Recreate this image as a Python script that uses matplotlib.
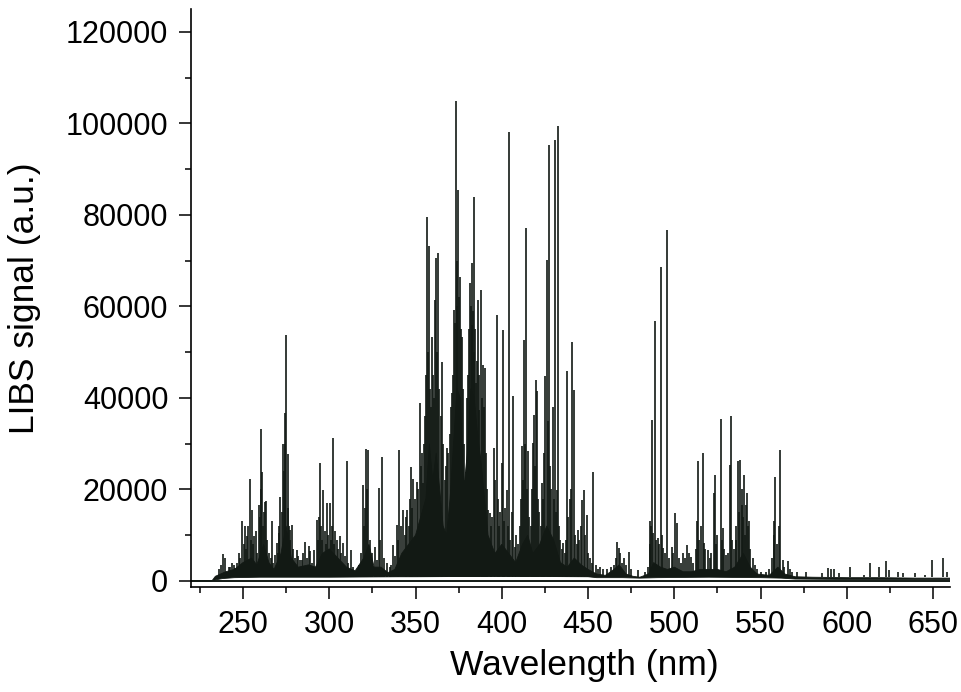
import numpy as np
import matplotlib.pyplot as plt
from matplotlib.ticker import MultipleLocator

plt.rcParams['font.family'] = ['Liberation Sans', 'DejaVu Sans']

# strong emission lines: wavelength (nm) and peak signal (a.u.)
peak_nm = [
	238.4, 239.8, 241.7, 243.6, 245.5, 247.5, 249.4, 251.3, 252.3, 253.8,
	255.2, 256.5, 259.0, 260.2, 261.0, 262.5, 263.3, 266.8, 268.7, 269.7,
	270.6, 271.6, 273.1, 274.1, 275.1, 275.8, 277.0, 277.4, 278.5, 281.2,
	283.2, 286.0, 288.0, 291.4, 292.8, 294.7, 296.6, 298.6, 300.5, 302.4,
	303.4, 306.3, 308.2, 310.2, 312.5, 319.4, 321.4, 322.7, 326.6, 328.9,
	330.4, 333.3, 337.2, 339.1, 340.6, 342.9, 345.3, 347.4, 348.7, 350.7,
	352.4, 354.3, 356.8, 358.0, 359.4, 361.3, 361.9, 363.2, 365.2, 368.4,
	371.0, 372.1, 372.9, 373.4, 374.8, 375.8, 376.7, 379.2, 381.5, 382.5,
	383.4, 384.0, 385.0, 386.2, 387.0, 387.7, 388.9, 390.2, 392.1, 393.1,
	395.4, 397.0, 399.9, 400.5, 402.8, 404.3, 406.6, 407.6, 411.8, 413.0,
	414.3, 415.3, 418.2, 418.8, 419.9, 420.5, 423.0, 424.9, 425.9, 427.3,
	429.4, 430.7, 431.7, 432.6, 435.5, 438.0, 440.7, 441.7, 444.2, 446.5,
	447.5, 449.1, 452.9, 454.8, 457.0, 461.0, 466.9, 467.8, 470.8, 473.7,
	478.9, 486.1, 487.0, 487.8, 488.8, 490.5, 492.1, 493.4, 495.9, 498.6,
	500.3, 501.3, 505.0, 507.5, 509.8, 513.3, 513.9, 516.6, 517.1, 519.4,
	522.7, 523.3, 526.8, 528.3, 530.0, 532.0, 532.6, 533.6, 536.8, 538.2,
	539.4, 540.3, 541.5, 542.3, 543.0, 545.5, 557.5, 558.5, 561.5, 562.8,
	565.7, 568.2, 570.9, 576.3, 581.1, 585.6, 588.8, 590.8, 592.8, 595.7,
	601.8, 606.3, 610.1, 613.4, 618.8, 622.7, 624.6, 629.8, 632.3, 639.6,
	645.4, 649.3, 653.5, 655.8, 658.3,
]
peak_counts = [
	5800, 5000, 3100, 3900, 2800, 6100, 13100, 11900, 9700, 22300,
	15500, 9700, 16600, 33300, 23900, 17300, 17500, 13000, 5700, 8300,
	10500, 18400, 30000, 36800, 53800, 27700, 9000, 11100, 12200, 6800,
	4600, 8400, 7600, 6800, 13300, 25700, 19900, 17100, 17000, 31200,
	10800, 9700, 8200, 26200, 6800, 21000, 28900, 28500, 7500, 20300,
	27000, 3900, 7900, 12200, 28500, 15500, 15400, 24900, 22200, 21700,
	38800, 21400, 79600, 73100, 53400, 61400, 70500, 71600, 47900, 29000,
	41000, 59200, 56300, 104800, 85500, 66500, 53400, 23900, 65100, 69400,
	58900, 84000, 43200, 61400, 37400, 63600, 47200, 46500, 15500, 14800,
	29000, 58100, 25700, 54900, 19900, 98200, 40300, 7500, 29400, 52700,
	77100, 28300, 30100, 36300, 43800, 41400, 21400, 44700, 70200, 95300,
	38100, 96400, 19900, 99500, 8200, 45800, 52300, 41800, 11100, 17700,
	19900, 14400, 23900, 3500, 3000, 2500, 8600, 7200, 5000, 6400,
	2400, 13000, 35200, 10400, 56700, 9300, 68700, 7100, 76700, 7500,
	14800, 12600, 6000, 7900, 5300, 13000, 26100, 27900, 8200, 6800,
	19200, 23200, 35300, 11500, 5700, 25400, 36100, 9000, 26100, 26500,
	16600, 23200, 16600, 19200, 13000, 5000, 13000, 22800, 28600, 4600,
	4400, 2000, 2000, 2000, 900, 1700, 2800, 2600, 2600, 1700,
	3100, 900, 1200, 3900, 3000, 4400, 2300, 2000, 1700, 1700,
	1200, 4600, 900, 5000, 2000,
]

# weaker lines packed between the strong ones
weak_nm = [
	236.0, 237.2, 242.5, 244.5, 246.5, 248.3, 250.5, 251.8, 253.0, 254.5,
	256.0, 257.5, 258.3, 259.6, 260.6, 261.6, 262.0, 264.0, 265.0, 266.0,
	267.5, 270.0, 271.0, 272.5, 273.6, 274.6, 276.3, 276.7, 279.2, 280.0,
	282.0, 284.0, 285.0, 287.0, 289.0, 290.0, 293.3, 294.0, 295.3, 296.0,
	297.3, 298.0, 299.3, 301.0, 301.6, 303.0, 304.2, 305.0, 307.0, 309.0,
	311.0, 313.5, 317.0, 318.5, 320.0, 320.8, 322.0, 323.5, 324.5, 327.5,
	329.5, 331.5, 335.0, 336.0, 338.0, 339.8, 341.5, 343.8, 344.5, 346.0,
	346.8, 348.0, 349.8, 351.5, 353.2, 354.0, 355.0, 355.6, 356.3, 357.3,
	358.6, 359.0, 360.0, 360.6, 362.5, 363.8, 364.5, 366.0, 367.0, 367.8,
	369.0, 369.8, 370.5, 371.5, 373.9, 374.2, 375.3, 376.2, 377.3, 378.0,
	378.6, 379.8, 380.5, 381.0, 382.0, 383.0, 383.8, 384.5, 385.6, 386.6,
	388.3, 389.5, 390.8, 391.5, 393.8, 394.5, 396.0, 397.6, 398.5, 399.2,
	401.2, 402.0, 403.3, 405.0, 406.0, 408.5, 409.5, 410.5, 411.2, 412.4,
	413.6, 414.8, 416.0, 417.0, 417.6, 419.3, 421.0, 421.8, 422.5, 423.6,
	424.3, 426.5, 427.9, 428.6, 430.0, 431.2, 433.2, 434.0, 435.0, 436.5,
	437.3, 438.6, 439.5, 440.2, 442.5, 443.3, 445.0, 446.0, 448.0, 450.0,
	451.0, 452.0, 456.0, 458.5, 463.0, 465.0, 466.0, 468.6, 469.5, 472.0,
	475.0, 483.0, 485.0, 485.6, 486.6, 489.5, 491.0, 492.8, 494.5, 497.0,
	499.5, 502.5, 504.0, 506.0, 508.5, 511.0, 512.5, 514.5, 515.5, 518.0,
	520.5, 521.5, 524.0, 525.0, 527.5, 529.0, 531.0, 534.5, 535.5, 536.0,
	537.5, 539.0, 539.8, 541.0, 542.8, 544.0, 546.5, 548.0, 550.0, 553.0,
	555.0, 556.5, 558.0, 559.5, 560.5, 563.5, 567.0,
]
weak_counts = [
	2500, 3500, 3000, 3500, 4000, 5000, 8000, 7000, 12000, 9000,
	8000, 11000, 6000, 14000, 20000, 12000, 15000, 9000, 6000, 5000,
	4000, 6000, 12000, 15000, 24000, 30000, 16000, 12000, 7000, 5000,
	5500, 4500, 6000, 5000, 6500, 4000, 9000, 14000, 12000, 9000,
	11000, 8000, 10000, 9000, 12000, 8000, 9000, 7000, 6000, 5500,
	4000, 3000, 3500, 6000, 12000, 16000, 20000, 9000, 6000, 4500,
	9000, 5000, 3000, 3500, 5500, 9000, 12000, 10000, 14000, 12000,
	18000, 16000, 18000, 20000, 25000, 28000, 30000, 36000, 45000, 50000,
	42000, 38000, 45000, 40000, 50000, 42000, 36000, 30000, 22000, 25000,
	28000, 32000, 38000, 45000, 60000, 70000, 62000, 55000, 42000, 30000,
	22000, 40000, 45000, 55000, 60000, 56000, 50000, 55000, 48000, 45000,
	40000, 38000, 28000, 20000, 12000, 14000, 22000, 18000, 12000, 15000,
	13000, 16000, 12000, 9000, 15000, 10000, 8000, 12000, 18000, 22000,
	30000, 20000, 14000, 12000, 20000, 25000, 18000, 15000, 12000, 18000,
	28000, 35000, 25000, 20000, 18000, 15000, 12000, 9000, 7000, 6000,
	9000, 14000, 18000, 20000, 10000, 8000, 9000, 12000, 10000, 6000,
	5000, 4000, 2500, 2500, 3000, 3500, 5000, 6000, 4000, 3500,
	2500, 2000, 3000, 8000, 12000, 9000, 8000, 10000, 6000, 5000,
	6000, 5000, 4000, 5000, 6000, 4000, 7000, 9000, 12000, 7000,
	5000, 6000, 8000, 10000, 9000, 7000, 6000, 7000, 9000, 12000,
	15000, 20000, 14000, 10000, 12000, 7000, 3500, 2500, 2000, 2000,
	2500, 5000, 10000, 8000, 12000, 3000, 2500,
]

# solid dark band made by the unresolved lines: top edge and bottom edge
band_nm = [220, 232, 234, 240, 245, 250, 255, 258, 262, 265, 268, 272, 275, 278,
	282, 288, 292, 296, 300, 305, 310, 315, 320, 323, 326, 330, 334, 338, 342,
	346, 350, 353, 356, 358, 360, 362, 364, 366, 368, 370, 372, 374, 376, 378,
	380, 382, 384, 386, 388, 390, 392, 394, 396, 400, 404, 408, 412, 415, 418,
	422, 426, 430, 434, 438, 442, 446, 450, 455, 460, 465, 468, 472, 476, 480,
	485, 488, 492, 496, 500, 505, 510, 515, 520, 525, 530, 535, 540, 544, 548,
	555, 560, 564, 570, 580, 600, 620, 640, 660]
band_counts = [0, 0, 1000, 2000, 2500, 4000, 5000, 3500, 8000, 4000, 2500, 6000,
	12000, 5000, 3000, 3500, 3000, 6000, 7000, 5000, 3000, 2200, 5000, 8000, 3000,
	3000, 1800, 2500, 6000, 8000, 10000, 14000, 18000, 30000, 22000, 28000, 20000,
	12000, 10000, 18000, 30000, 42000, 40000, 20000, 28000, 42000, 40000, 32000,
	26000, 18000, 10000, 8000, 6000, 8000, 6000, 4000, 8000, 10000, 6000, 8000,
	12000, 9000, 4000, 3000, 5000, 3500, 2500, 1500, 1200, 2500, 3500, 1500, 1000,
	800, 1500, 4000, 3000, 2500, 3000, 2000, 2000, 2500, 2500, 2500, 2000, 3000,
	6000, 3000, 1500, 1200, 3000, 1500, 900, 800, 700, 700, 600, 600]
floor_nm = [660, 600, 570, 562, 550, 520, 490, 480, 470, 455, 450, 400, 350, 340,
	300, 260, 245, 238, 234, 232, 220]
floor_counts = [300, 300, 400, 600, 700, 800, 700, 600, 700, 700, 900, 1000,
	900, 900, 800, 800, 700, 500, 200, 0, 0]

ink = '#121914'

fig = plt.figure(figsize=(9.61, 6.92), dpi=100)
ax = fig.add_axes([0.199, 0.152, 0.790, 0.835])

ax.fill(band_nm + floor_nm, band_counts + floor_counts, color=ink, lw=0.6)
ax.vlines(weak_nm, 800, weak_counts, color=ink, lw=1.2, snap=True)
ax.vlines(peak_nm, 800, peak_counts, color=ink, lw=1.2, snap=True)
ax.plot([220, 660], [0, 0], color=ink, lw=1.4)

ax.set_xlim(220, 660)
ax.set_ylim(-1300, 125000)

ax.xaxis.set_major_locator(MultipleLocator(50))
ax.xaxis.set_minor_locator(MultipleLocator(25))
ax.yaxis.set_major_locator(MultipleLocator(20000))
ax.yaxis.set_minor_locator(MultipleLocator(10000))

for s in ['top', 'right']:
	ax.spines[s].set_visible(False)
for s in ['left', 'bottom']:
	ax.spines[s].set_linewidth(1.2)

ax.tick_params(which='major', direction='out', length=8.5, width=1.1, labelsize=22, pad=8)
ax.tick_params(which='minor', direction='out', length=4.5, width=1.1)

ax.set_xlabel('Wavelength (nm)', fontsize=25.5)
ax.xaxis.set_label_coords(0.518, -0.108)
ax.set_ylabel('LIBS signal (a.u.)', fontsize=25.5, labelpad=18)

fig.savefig('out.png', dpi=100)
